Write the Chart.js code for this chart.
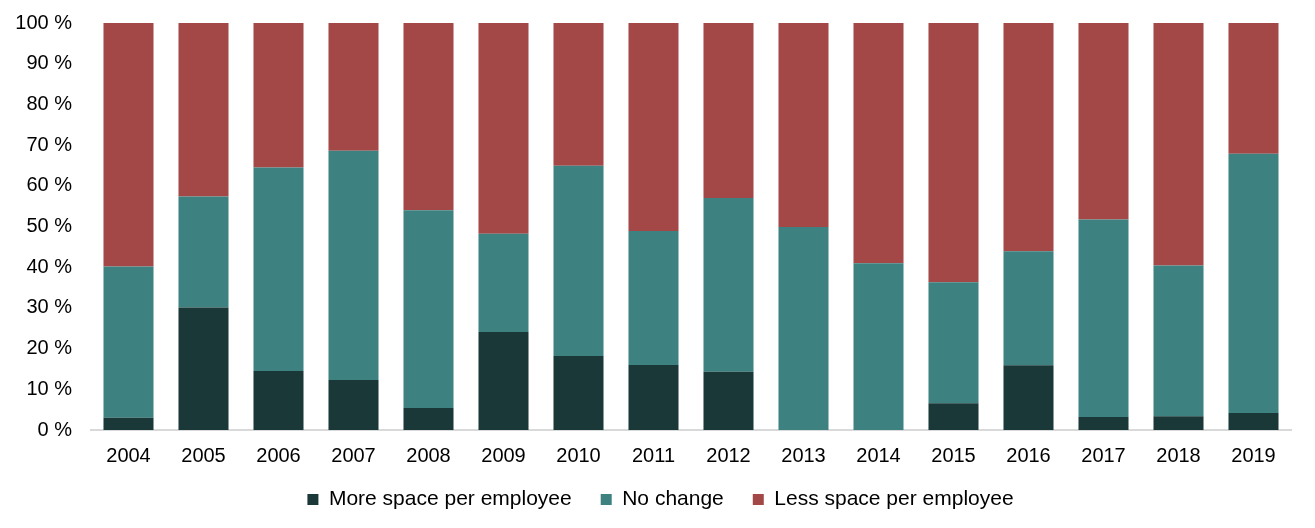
<!DOCTYPE html>
<html>
<head>
<meta charset="utf-8">
<script src="https://cdn.jsdelivr.net/npm/chart.js@4"></script>
<style>
  html, body { margin: 0; padding: 0; background: #fff; }
  #wrap { width: 1315px; height: 528px; }
</style>
</head>
<body>
<div id="wrap"><canvas id="spaceChart"></canvas></div>
<script>
const years = ["2004", "2005", "2006", "2007", "2008", "2009", "2010", "2011",
  "2012", "2013", "2014", "2015", "2016", "2017", "2018", "2019"];
const moreSpace = [3, 30.1, 14.5, 12.3, 5.4, 24.1, 18.2, 16, 14.3, 0, 0, 6.6, 15.9, 3.2, 3.4, 4.2];
const noChange = [37.2, 27.3, 50, 56.3, 48.6, 24.1, 46.7, 32.9, 42.7, 49.9, 41, 29.7, 28, 48.5, 37, 63.7];
const lessSpace = [59.8, 42.6, 35.5, 31.4, 46, 51.8, 35.1, 51.1, 43, 50.1, 59, 63.7, 56.1, 48.3, 59.6, 32.1];

const fontFamily = "'Liberation Sans', Arial, sans-serif";

// legend sits closer to the axis than chart.js would put it
const legendNudge = {
  id: "legendNudge",
  afterLayout(chart) {
    const lg = chart.legend;
    if (!lg) return;
    lg.top -= 8;
    lg.bottom -= 8;
    lg.left += 15;
    lg.right += 15;
  },
};

const ctx = document.getElementById("spaceChart").getContext("2d");
const spaceChart = new Chart(ctx, {
  type: "bar",
  data: {
    labels: years,
    datasets: [
      {
        label: "More space per employee",
        data: moreSpace,
        backgroundColor: "#1b3839",
        borderWidth: 0,
      },
      {
        label: "No change",
        data: noChange,
        backgroundColor: "#3d8281",
        borderWidth: 0,
      },
      {
        label: "Less space per employee",
        data: lessSpace,
        backgroundColor: "#a34747",
        borderWidth: 0,
      },
    ],
  },
  plugins: [legendNudge],
  options: {
    responsive: true,
    maintainAspectRatio: false,
    animation: false,
    datasets: {
      bar: {
        categoryPercentage: 1,
        barPercentage: 0.667,
      },
    },
    layout: {
      padding: { top: 23, right: 24, left: 0, bottom: 0 },
    },
    plugins: {
      tooltip: { enabled: false },
      legend: {
        position: "bottom",
        maxHeight: 60,
        labels: {
          boxWidth: 11,
          boxHeight: 11,
          padding: 29,
          color: "#000",
          font: { family: fontFamily, size: 21 },
        },
      },
    },
    scales: {
      x: {
        stacked: true,
        grid: { display: false, drawTicks: false },
        border: { display: true, color: "#d9d9d9", width: 2 },
        ticks: {
          color: "#000",
          padding: 14,
          maxRotation: 0,
          font: { family: fontFamily, size: 20 },
        },
        afterFit: function (scale) {
          scale.height = 38;
        },
      },
      y: {
        stacked: true,
        min: 0,
        max: 100,
        grid: { display: false, drawTicks: false },
        border: { display: false },
        ticks: {
          stepSize: 10,
          color: "#000",
          padding: 19,
          font: { family: fontFamily, size: 20, lineHeight: 0.4 },
          callback: (value) => value + " %",
        },
        afterFit: function (scale) {
          scale.width = 91;
        },
      },
    },
  },
});
</script>
</body>
</html>
